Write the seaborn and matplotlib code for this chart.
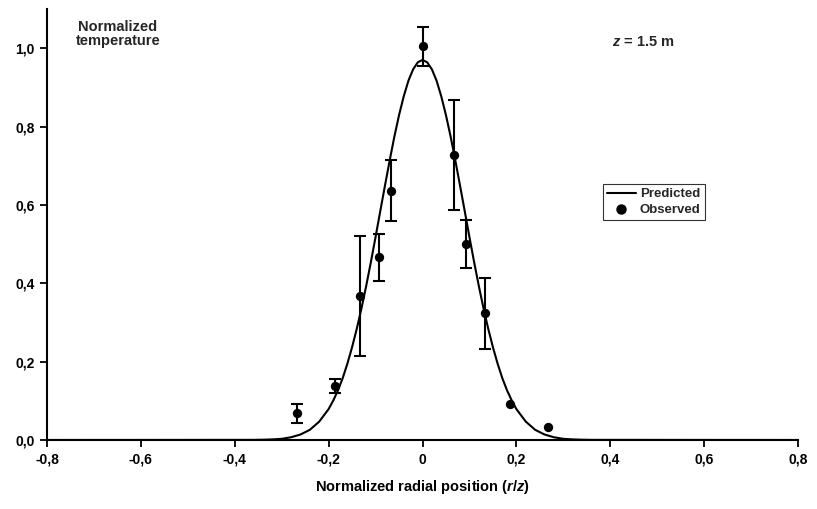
import numpy as np
import pandas as pd
import matplotlib
matplotlib.use("Agg")
import matplotlib.pyplot as plt
import seaborn as sns
from matplotlib.lines import Line2D

# ---- data ----
obs_x = [-0.267, -0.187, -0.133, -0.093, -0.067, 0.0, 0.067, 0.093, 0.133, 0.187, 0.267]
obs_y = [0.068, 0.137, 0.367, 0.467, 0.636, 1.005, 0.727, 0.500, 0.323, 0.091, 0.034]
obs_err = [0.025, 0.018, 0.153, 0.060, 0.078, 0.050, 0.140, 0.061, 0.090, 0.0, 0.0]

pred_x = [-0.80, -0.36, -0.34, -0.32, -0.30, -0.28, -0.26, -0.24, -0.22, -0.20,
          -0.19, -0.18, -0.17, -0.16, -0.15, -0.14, -0.13, -0.12, -0.11, -0.10,
          -0.09, -0.08, -0.07, -0.06, -0.05, -0.04, -0.03, -0.02, -0.01, 0.0,
          0.01, 0.02, 0.03, 0.04, 0.05, 0.06, 0.07, 0.08, 0.09, 0.10,
          0.11, 0.12, 0.13, 0.14, 0.15, 0.16, 0.17, 0.18, 0.19, 0.20,
          0.22, 0.24, 0.26, 0.28, 0.30, 0.32, 0.34, 0.36, 0.80]
pred_y = [0.0, 0.0003, 0.0007, 0.0015, 0.003, 0.007, 0.014, 0.026, 0.047, 0.079,
          0.101, 0.127, 0.158, 0.195, 0.237, 0.284, 0.336, 0.393, 0.454, 0.518,
          0.584, 0.649, 0.713, 0.774, 0.829, 0.877, 0.917, 0.946, 0.964, 0.970,
          0.964, 0.946, 0.917, 0.877, 0.829, 0.774, 0.713, 0.649, 0.584, 0.518,
          0.454, 0.393, 0.336, 0.284, 0.237, 0.195, 0.158, 0.127, 0.101, 0.079,
          0.047, 0.026, 0.014, 0.007, 0.003, 0.0015, 0.0007, 0.0003, 0.0]

x_ticks = [-0.8, -0.6, -0.4, -0.2, 0.0, 0.2, 0.4, 0.6, 0.8]
x_tick_labels = ["-0,8", "-0,6", "-0,4", "-0,2", "0", "0,2", "0,4", "0,6", "0,8"]
y_ticks = [0.0, 0.2, 0.4, 0.6, 0.8, 1.0]
y_tick_labels = ["0,0", "0,2", "0,4", "0,6", "0,8", "1,0"]

pred_df = pd.DataFrame({"x": pred_x, "y": pred_y})
obs_df = pd.DataFrame({"x": obs_x, "y": obs_y, "err": obs_err})
err_df = obs_df[obs_df["err"] > 0]

sns.set_theme(style="ticks")
plt.rcParams["font.family"] = ["Liberation Sans", "DejaVu Sans"]
plt.rcParams["font.weight"] = "bold"
plt.rcParams["mathtext.fontset"] = "custom"
plt.rcParams["mathtext.it"] = "Liberation Sans:style=italic:weight=bold"
plt.rcParams["mathtext.rm"] = "Liberation Sans:weight=bold"

W, H = 817, 509
fig = plt.figure(figsize=(W / 100, H / 100), dpi=100)
left, right, bottom, top = 47, 798, 440, 9
ax = fig.add_axes([left / W, 1 - bottom / H, (right - left) / W, (bottom - top) / H])

sns.lineplot(data=pred_df, x="x", y="y", ax=ax, color="black", linewidth=1.5,
             sort=False, estimator=None)
ax.errorbar(err_df["x"], err_df["y"], yerr=err_df["err"], fmt="none",
            ecolor="black", elinewidth=1.5, capsize=4, capthick=1.5, zorder=3)
sns.scatterplot(data=obs_df, x="x", y="y", ax=ax, color="black", s=45,
                edgecolor="black", linewidth=0, zorder=4)

ax.set_xlim(-0.8, 0.8)
ax.set_ylim(0, 1.1)
ax.set_xticks(x_ticks)
ax.set_xticklabels(x_tick_labels, fontsize=10, fontweight="bold")
ax.set_yticks(y_ticks)
ax.set_yticklabels(y_tick_labels, fontsize=10, fontweight="bold")
ax.tick_params(axis="both", direction="out", length=5, width=1.3, color="black",
               labelcolor="black", pad=4)
for s in ["top", "right"]:
    ax.spines[s].set_visible(False)
for s in ["left", "bottom"]:
    ax.spines[s].set_color("black")
    ax.spines[s].set_linewidth(1.5)

ax.set_xlabel(r"Normalized radial position ($r$/$z$)", fontsize=10.5, fontweight="bold",
              color="black", labelpad=8)
ax.set_ylabel("")

fig.text(118 / W, 1 - 34 / H, "Normalized\ntemperature", ha="center", va="center",
         fontsize=10.5, fontweight="bold", linespacing=1.05)
fig.text(612 / W, 1 - 42 / H, r"$z$ = 1.5 m", ha="left", va="center",
         fontsize=10.5, fontweight="bold")

handles = [Line2D([0], [0], color="black", linewidth=1.5),
           Line2D([0], [0], color="black", marker="o", linestyle="none", markersize=6.5)]
leg = ax.legend(handles, ["Predicted", "Observed"], loc="upper left",
                bbox_to_anchor=(603 / W, 1 - 184 / H), bbox_transform=fig.transFigure,
                frameon=True, fancybox=False, prop={"weight": "bold", "size": 9.5},
                handlelength=2.2, handletextpad=0.3, borderpad=0.3, labelspacing=0.3,
                borderaxespad=0)
leg.get_frame().set_edgecolor("black")
leg.get_frame().set_linewidth(0.8)

fig.savefig("out.png", dpi=100)
